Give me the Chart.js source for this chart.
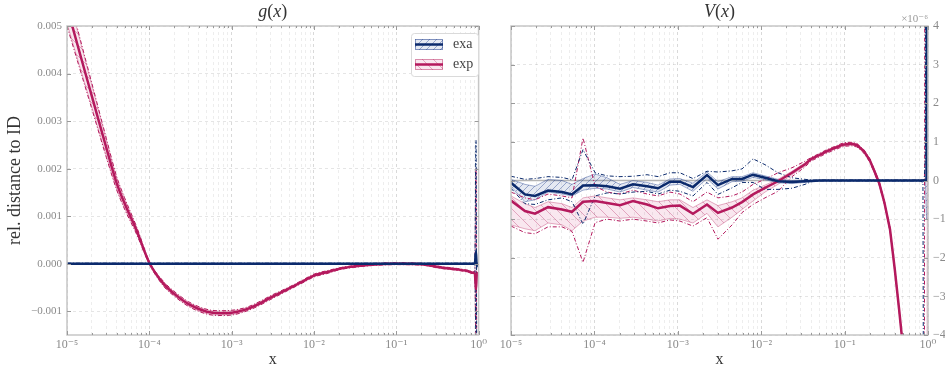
<!DOCTYPE html>
<html>
<head>
<meta charset="utf-8">
<script src="https://cdn.jsdelivr.net/npm/chart.js@4"></script>
<style>
    body { margin: 0; background: #fff; width: 945px; height: 371px; overflow: hidden; position: relative; }
    .panel { position: absolute; top: 0; height: 371px; }
    #gPanel { left: 0; width: 490px; }
    #vPanel { left: 490px; width: 455px; }
</style>
</head>
<body>
<div class="panel" id="gPanel"><canvas id="gChart"></canvas></div>
<div class="panel" id="vPanel"><canvas id="vChart"></canvas></div>
<script>
// ---- g(x): relative distance to ID ----
const gX = [1e-5, 1.5e-5, 2e-5, 3e-5, 4e-5, 5e-5, 7e-5, 1e-4, 1.5e-4, 2e-4,
    3e-4, 5e-4, 7e-4, 1e-3, 1.5e-3, 2e-3, 3e-3, 5e-3, 7e-3, 1e-2,
    1.5e-2, 2e-2, 3e-2, 5e-2, 0.1, 0.2, 0.35, 0.55, 0.75, 0.85,
    0.9, 0.93, 0.95, 0.97, 1.0];

const gExpMain = [0.0054, 0.0043, 0.00353, 0.00244, 0.0017, 0.00127, 0.0007, 0.00002, -0.00043, -0.00063,
    -0.00085, -0.00101, -0.00104, -0.00103, -0.00096, -0.00087, -0.00071, -0.00052, -0.00039, -0.00025,
    -0.00017, -0.00011, -0.00006, -0.00002, 0.0, -0.00001, -0.00008, -0.00012, -0.00016, -0.00019,
    -0.0002, -0.00054, -0.00025, -0.0002, -0.0002];
const gExpHi = [0.00574, 0.00458, 0.00376, 0.00261, 0.00182, 0.00137, 0.00076, 0.00004, -0.00039, -0.00059,
    -0.00081, -0.00097, -0.001, -0.00099, -0.00093, -0.00084, -0.00068, -0.0005, -0.00037, -0.00023,
    -0.00015, -0.0001, -0.00005, -0.00001, 0.00001, 0.0, -0.00007, -0.00011, -0.00015, -0.00018,
    -0.00018, -0.0004, -0.00021, -0.00018, -0.00018];
const gExpLo = [0.00506, 0.00402, 0.0033, 0.00227, 0.00158, 0.00117, 0.00064, 0.0, -0.00047, -0.00067,
    -0.00089, -0.00105, -0.00108, -0.00107, -0.00099, -0.0009, -0.00074, -0.00054, -0.00041, -0.00027,
    -0.00019, -0.00012, -0.00007, -0.00003, -0.00001, -0.00002, -0.00009, -0.00013, -0.00017, -0.0002,
    -0.00022, -0.0007, -0.0003, -0.00022, -0.00022];
const gExpMax = [0.0058, 0.00462, 0.0038, 0.00264, 0.00184, 0.00139, 0.00078, 0.00005, -0.00038, -0.00058,
    -0.0008, -0.00096, -0.00099, -0.00098, -0.00092, -0.00083, -0.00067, -0.00049, -0.00036, -0.00022,
    -0.00014, -0.00009, -0.00004, 0.0, 0.00002, 0.00001, -0.00006, -0.0001, -0.00014, -0.00017,
    -0.00017, 0.002, -0.0017, -0.0017, -0.0017];
const gExpMin = [0.005, 0.00398, 0.00326, 0.00224, 0.00156, 0.00115, 0.00062, -0.00001, -0.00048, -0.00068,
    -0.0009, -0.00106, -0.00109, -0.00108, -0.001, -0.00091, -0.00075, -0.00055, -0.00042, -0.00028,
    -0.0002, -0.00013, -0.00008, -0.00004, -0.00002, -0.00003, -0.0001, -0.00014, -0.00018, -0.00021,
    -0.00023, -0.0017, -0.0017, -0.0017, -0.0017];

const gExaMain = [0, 0, 0, 0, 0, 0, 0, 0, 0, 0,
    0, 0, 0, 0, 0, 0, 0, 0, 0, 0,
    0, 0, 0, 0, 0, 0, 0, 0, 0, 0,
    0, 0.00025, -0.00005, 0, 0];
const gExaHi = [0.00001, 0.00001, 0.00001, 0.00001, 0.00001, 0.00001, 0.00001, 0.00001, 0.00001, 0.00001,
    0.00001, 0.00001, 0.00001, 0.00001, 0.00001, 0.00001, 0.00001, 0.00001, 0.00001, 0.00001,
    0.00001, 0.00001, 0.00001, 0.00001, 0.00001, 0.00001, 0.00001, 0.00001, 0.00001, 0.00001,
    0.00001, 0.0003, 0.00002, 0.00001, 0.00001];
const gExaLo = [-0.00001, -0.00001, -0.00001, -0.00001, -0.00001, -0.00001, -0.00001, -0.00001, -0.00001, -0.00001,
    -0.00001, -0.00001, -0.00001, -0.00001, -0.00001, -0.00001, -0.00001, -0.00001, -0.00001, -0.00001,
    -0.00001, -0.00001, -0.00001, -0.00001, -0.00001, -0.00001, -0.00001, -0.00001, -0.00001, -0.00001,
    -0.00001, 0.0001, -0.0001, -0.00001, -0.00001];
const gExaMax = [0.00001, 0.00001, 0.00001, 0.00001, 0.00001, 0.00001, 0.00001, 0.00001, 0.00001, 0.00001,
    0.00001, 0.00001, 0.00001, 0.00001, 0.00001, 0.00001, 0.00001, 0.00001, 0.00001, 0.00001,
    0.00001, 0.00001, 0.00001, 0.00001, 0.00001, 0.00001, 0.00001, 0.00001, 0.00001, 0.00001,
    0.00001, 0.0026, -0.0017, -0.0017, -0.0017];
const gExaMin = [-0.00001, -0.00001, -0.00001, -0.00001, -0.00001, -0.00001, -0.00001, -0.00001, -0.00001, -0.00001,
    -0.00001, -0.00001, -0.00001, -0.00001, -0.00001, -0.00001, -0.00001, -0.00001, -0.00001, -0.00001,
    -0.00001, -0.00001, -0.00001, -0.00001, -0.00001, -0.00001, -0.00001, -0.00001, -0.00001, -0.00001,
    -0.00002, -0.0017, -0.0017, -0.0017, -0.0017];

const gYTicks = [-0.001, 0, 0.001, 0.002, 0.003, 0.004, 0.005];

// ---- V(x): values in units of 1e-6 ----
const vX = [1.00e-5, 1.47e-5, 1.94e-5, 2.78e-5, 4.09e-5, 5.39e-5, 7.30e-5, 1.02e-4, 1.42e-4, 2.03e-4,
    2.90e-4, 4.28e-4, 5.80e-4, 8.06e-4, 1.06e-3, 1.52e-3, 2.24e-3, 3.03e-3, 4.47e-3, 5.89e-3,
    7.98e-3, 1.11e-2, 1.59e-2, 2.34e-2, 3.35e-2,
    0.04, 0.05, 0.06, 0.07, 0.08, 0.09, 0.1, 0.12, 0.14, 0.17,
    0.2, 0.23, 0.26, 0.3, 0.35, 0.4, 0.45, 0.5, 0.6, 0.7,
    0.8, 0.87, 0.9, 0.93, 0.96, 0.98, 1.0];

const vExaMain = [-0.06, -0.36, -0.4, -0.26, -0.3, -0.36, -0.13, -0.12, -0.15, -0.21,
    -0.1, -0.15, -0.2, -0.03, -0.03, -0.17, 0.14, -0.12, 0.04, 0.04,
    0.15, 0.07, -0.02, -0.04, -0.02,
    -0.01, 0, 0, 0, 0, 0, 0, 0, 0, 0,
    0, 0, 0, 0, 0, 0, 0, 0, 0, 0,
    0, 0, 0, 0, 0.02, 15, 15];
const vExaHi = [0.03, -0.1, -0.15, 0.03, 0.0, -0.1, 0.05, 0.17, 0.07, -0.1,
    0.0, -0.05, -0.12, 0.04, 0.05, -0.07, 0.22, -0.03, 0.1, 0.1,
    0.2, 0.12, 0.03, 0.0, 0.01,
    0.01, 0.01, 0.01, 0.01, 0.01, 0.01, 0.01, 0.01, 0.01, 0.01,
    0.01, 0.01, 0.01, 0.01, 0.01, 0.01, 0.01, 0.01, 0.01, 0.01,
    0.01, 0.01, 0.01, 0.03, 0.1, 15, 15];
const vExaLo = [-0.15, -0.55, -0.5, -0.3, -0.35, -0.4, -0.25, -0.2, -0.22, -0.3,
    -0.18, -0.25, -0.3, -0.12, -0.1, -0.28, 0.05, -0.22, -0.03, -0.02,
    0.08, 0.02, -0.06, -0.08, -0.05,
    -0.01, -0.01, -0.01, -0.01, -0.01, -0.01, -0.01, -0.01, -0.01, -0.01,
    -0.01, -0.01, -0.01, -0.01, -0.01, -0.01, -0.01, -0.01, -0.01, -0.01,
    -0.01, -0.01, -0.02, -0.05, -1.0, -1.0, -1.0];
const vExaMax = [0.11, 0.03, 0.05, 0.1, 0.08, 0.02, 0.8, 0.2, 0.12, 0.1,
    0.11, 0.15, 0.1, 0.2, 0.2, 0.05, 0.24, 0.22, 0.25, 0.3,
    0.56, 0.41, 0.2, 0.07, 0.03,
    0.01, 0.01, 0.01, 0.01, 0.01, 0.01, 0.01, 0.01, 0.01, 0.01,
    0.01, 0.01, 0.01, 0.01, 0.01, 0.01, 0.01, 0.01, 0.01, 0.01,
    0.01, 0.01, 0.02, 0.6, 15, 15, 15];
const vExaMin = [-0.2, -0.6, -0.62, -0.5, -0.45, -0.55, -1.13, -0.4, -0.32, -0.35,
    -0.3, -0.28, -0.35, -0.25, -0.28, -0.4, -0.05, -0.36, -0.19, -0.05,
    -0.05, -0.23, -0.23, -0.2, -0.1,
    -0.03, -0.01, -0.01, -0.01, -0.01, -0.01, -0.01, -0.01, -0.01, -0.01,
    -0.01, -0.01, -0.01, -0.01, -0.01, -0.01, -0.01, -0.01, -0.01, -0.01,
    -0.01, -0.05, -15, -15, -15, -15, -15];

const vExpMain = [-0.52, -0.79, -0.86, -0.69, -0.75, -0.81, -0.55, -0.53, -0.58, -0.64,
    -0.53, -0.62, -0.72, -0.66, -0.65, -0.86, -0.62, -0.84, -0.7, -0.56,
    -0.36, -0.19, -0.02, 0.2, 0.42,
    0.56, 0.66, 0.75, 0.81, 0.86, 0.91, 0.935, 0.95, 0.92, 0.76,
    0.53, 0.22, -0.07, -0.57, -1.26, -2.31, -3.33, -4.3, -6.5, -9,
    -12, -14, -15, -16, -17, -18, -18];
const vExpHi = [-0.4, -0.6, -0.7, -0.55, -0.6, -0.7, -0.45, -0.4, -0.45, -0.5,
    -0.45, -0.5, -0.55, -0.5, -0.5, -0.7, -0.5, -0.65, -0.55, -0.45,
    -0.25, -0.12, 0.03, 0.24, 0.46,
    0.59, 0.69, 0.78, 0.84, 0.89, 0.94, 0.965, 0.98, 0.95, 0.79,
    0.56, 0.25, -0.04, -0.54, -1.23, -2.28, -3.3, -4.27, -6.47, -8.97,
    -11.97, -13.97, -14.97, -15.97, -16.97, 0.2, 0.2];
const vExpLo = [-1.15, -1.25, -1.3, -1.1, -1.15, -1.3, -1.05, -0.95, -0.95, -0.98,
    -0.95, -1.0, -1.05, -0.98, -1.0, -1.1, -0.85, -1.2, -0.95, -0.75,
    -0.53, -0.3, -0.1, 0.15, 0.38,
    0.53, 0.63, 0.72, 0.78, 0.83, 0.88, 0.905, 0.92, 0.89, 0.73,
    0.5, 0.19, -0.1, -0.6, -1.29, -2.34, -3.36, -4.33, -6.53, -9.03,
    -12.03, -14.03, -15.03, -16.03, -17.03, -20, -20];
const vExpMax = [-0.3, -0.45, -0.5, -0.35, -0.4, -0.45, 1.1, -0.15, -0.3, -0.35,
    -0.25, -0.35, -0.4, -0.3, -0.35, -0.55, -0.3, -0.45, -0.4, -0.3,
    -0.1, 0.03, 0.2, 0.33, 0.5,
    0.6, 0.7, 0.79, 0.85, 0.9, 0.95, 0.98, 0.99, 0.96, 0.8,
    0.57, 0.26, -0.03, -0.53, -1.22, -2.27, -3.29, -4.26, -6.46, -8.96,
    -11.96, -13.96, -14.96, 30, 30, 30, 30];
const vExpMin = [-1.18, -1.35, -1.38, -1.2, -1.2, -1.32, -2.12, -1.09, -1.0, -1.05,
    -1.0, -1.05, -1.1, -1.02, -1.05, -1.18, -0.96, -1.52, -1.15, -0.83,
    -0.62, -0.45, -0.28, 0.1, 0.35,
    0.51, 0.61, 0.7, 0.76, 0.81, 0.86, 0.885, 0.9, 0.87, 0.71,
    0.48, 0.17, -0.12, -0.62, -1.31, -2.36, -3.38, -4.35, -6.55, -9.05,
    -12.05, -14.05, -15.05, -16.05, -17.05, -18.05, -18.05];

const vYTicks = [-4, -3, -2, -1, 0, 1, 2, 3, 4];
const decades = [-5, -4, -3, -2, -1, 0];

const serif = "'Liberation Serif', 'DejaVu Serif', serif";
const ink = '#333';
const tickInk = '#8a8a8a';
const navy = '#0b2a6c';
const magenta = '#b4195d';

// 1..9 x 10^n positions for the log axis (labels only on powers of ten)
const xTickValues = [];
decades.forEach(e => {
    if (e === 0) { xTickValues.push(1); return; }
    for (let d = 1; d <= 9; d++) xTickValues.push(d * Math.pow(10, e));
});

const SUP = { '-': '\u207B', '0': '\u2070', '1': '\u00B9', '2': '\u00B2', '3': '\u00B3',
    '4': '\u2074', '5': '\u2075', '6': '\u2076' };
function sup(n) { return String(n).split('').map(ch => SUP[ch]).join(''); }
function isDecade(v) { const l = Math.log10(v); return Math.abs(l - Math.round(l)) < 1e-9; }
function minus(s) { return s.replace('-', '\u2212'); }

function hatch(base, stroke, size, rising) {
    const c = document.createElement('canvas');
    c.width = c.height = size;
    const g = c.getContext('2d');
    g.fillStyle = base;
    g.fillRect(0, 0, size, size);
    g.strokeStyle = stroke;
    g.lineWidth = 1;
    g.beginPath();
    for (const o of [-size, 0, size]) {
        if (rising) { g.moveTo(o, size); g.lineTo(o + size, 0); }
        else { g.moveTo(o, 0); g.lineTo(o + size, size); }
    }
    g.stroke();
    return g.createPattern(c, 'repeat');
}

const bluePattern = hatch('rgba(40, 70, 150, 0.12)', 'rgba(30, 60, 140, 0.4)', 7, true);
const pinkPattern = hatch('rgba(200, 40, 110, 0.11)', 'rgba(180, 30, 90, 0.33)', 11, false);

function pts(xs, ys) {
    return xs.map((x, i) => ({ x: x, y: ys[i] }));
}

function series(xs, s, color, edge, pattern, smooth) {
    const base = { pointRadius: 0, tension: 0, cubicInterpolationMode: smooth ? 'monotone' : 'default' };
    return {
        main: Object.assign({}, base, { data: pts(xs, s.main), borderColor: color, borderWidth: 2.5, fill: false }),
        max: Object.assign({}, base, { data: pts(xs, s.max), borderColor: color, borderWidth: 1, borderDash: [4, 2, 1, 2], fill: false }),
        min: Object.assign({}, base, { data: pts(xs, s.min), borderColor: color, borderWidth: 1, borderDash: [4, 2, 1, 2], fill: false }),
        hi: Object.assign({}, base, { data: pts(xs, s.hi), borderColor: edge, borderWidth: 1, backgroundColor: pattern, fill: '+1' }),
        lo: Object.assign({}, base, { data: pts(xs, s.lo), borderColor: edge, borderWidth: 1, fill: false })
    };
}

function drawRuns(ctx, runs, cx, y, size) {
    let w = 0;
    runs.forEach(r => {
        ctx.font = (r[1] ? 'italic ' : '') + size + 'px ' + serif;
        w += ctx.measureText(r[0]).width;
    });
    let x = cx - w / 2;
    ctx.textAlign = 'left';
    ctx.textBaseline = 'alphabetic';
    runs.forEach(r => {
        ctx.font = (r[1] ? 'italic ' : '') + size + 'px ' + serif;
        ctx.fillText(r[0], x, y);
        x += ctx.measureText(r[0]).width;
    });
}

function decor(titleRuns, extra) {
    return {
        id: 'decor',
        afterDraw(chart) {
            const { ctx, chartArea: a, scales } = chart;
            ctx.save();
            ctx.strokeStyle = '#c6c6c6';
            ctx.lineWidth = 1.5;
            ctx.strokeRect(a.left, a.top, a.right - a.left, a.bottom - a.top);

            // short inward tick marks on the frame
            ctx.strokeStyle = '#9a9a9a';
            ctx.lineWidth = 1;
            ctx.beginPath();
            xTickValues.forEach(v => {
                const px = Math.round(scales.x.getPixelForValue(v)) + 0.5;
                const len = isDecade(v) ? 4 : 2;
                ctx.moveTo(px, a.bottom); ctx.lineTo(px, a.bottom - len);
                ctx.moveTo(px, a.top); ctx.lineTo(px, a.top + len);
            });
            scales.y.ticks.forEach(t => {
                const py = Math.round(scales.y.getPixelForValue(t.value)) + 0.5;
                ctx.moveTo(a.left, py); ctx.lineTo(a.left + 4, py);
                ctx.moveTo(a.right, py); ctx.lineTo(a.right - 4, py);
            });
            ctx.stroke();

            ctx.fillStyle = ink;
            drawRuns(ctx, titleRuns, (a.left + a.right) / 2, 17, 18);
            if (extra) extra(ctx, a);
            ctx.restore();
        }
    };
}

function legendBox(ctx) {
    ctx.fillStyle = '#fff';
    ctx.strokeStyle = '#dadada';
    ctx.lineWidth = 1;
    ctx.beginPath();
    ctx.roundRect(411.5, 33.5, 67, 43, 3);
    ctx.fill();
    ctx.stroke();
    const rows = [
        { y: 44.5, label: 'exa', pattern: bluePattern, color: navy, edge: 'rgba(30, 60, 140, 0.5)' },
        { y: 64.5, label: 'exp', pattern: pinkPattern, color: magenta, edge: 'rgba(180, 30, 90, 0.45)' }
    ];
    rows.forEach(r => {
        ctx.fillStyle = r.pattern;
        ctx.fillRect(415, r.y - 5.5, 28, 11);
        ctx.strokeStyle = r.edge;
        ctx.strokeRect(415.5, r.y - 5, 27, 10);
        ctx.strokeStyle = r.color;
        ctx.lineWidth = 2.5;
        ctx.beginPath();
        ctx.moveTo(415, r.y); ctx.lineTo(443, r.y);
        ctx.stroke();
        ctx.lineWidth = 1;
        ctx.fillStyle = '#444';
        ctx.font = '14px ' + serif;
        ctx.textAlign = 'left';
        ctx.textBaseline = 'middle';
        ctx.fillText(r.label, 453, r.y);
    });
}

function scaleLabel(ctx, a) {
    ctx.fillStyle = '#9a9a9a';
    ctx.font = '11px ' + serif;
    ctx.textAlign = 'right';
    ctx.textBaseline = 'alphabetic';
    ctx.fillText('\u00D710' + sup(-6), a.right, 22);
}

function xAxis() {
    return {
        type: 'logarithmic',
        min: 1e-5,
        max: 1,
        afterBuildTicks: s => { s.ticks = xTickValues.map(v => ({ value: v })); },
        afterFit: s => { s.height = 36; },
        ticks: {
            autoSkip: false,
            maxRotation: 0,
            padding: 3,
            color: tickInk,
            font: { family: serif, size: 12 },
            callback: v => isDecade(v) ? '10' + sup(Math.round(Math.log10(v))) : ''
        },
        grid: {
            drawTicks: false,
            lineWidth: 1,
            color: c => (c.tick && isDecade(c.tick.value)) ? 'rgba(0, 0, 0, 0.15)' : 'rgba(0, 0, 0, 0.07)'
        },
        border: { display: false, dash: [3, 3] },
        title: { display: true, text: 'x', color: ink, font: { family: serif, size: 16 }, padding: { top: 0, bottom: 2 } }
    };
}

function buildDatasets(xs, exa, exp, smooth, zeroLine) {
    const a = series(xs, exa, navy, 'rgba(30, 60, 140, 0.4)', bluePattern, smooth);
    const b = series(xs, exp, magenta, 'rgba(180, 30, 90, 0.35)', pinkPattern, smooth);
    const sets = [a.main, b.main, a.max, a.min, b.max, b.min, a.hi, a.lo, b.hi, b.lo];
    if (zeroLine) {
        sets.push({ data: pts([1e-5, 1], [0, 0]), borderColor: '#b4b4b4', borderWidth: 1.5, pointRadius: 0, fill: false });
    }
    return sets;
}

function generateCharts() {
    const gCtx = document.getElementById('gChart').getContext('2d');
    const vCtx = document.getElementById('vChart').getContext('2d');

    const gConfig = {
        type: 'line',
        data: {
            datasets: buildDatasets(gX,
                { main: gExaMain, hi: gExaHi, lo: gExaLo, max: gExaMax, min: gExaMin },
                { main: gExpMain, hi: gExpHi, lo: gExpLo, max: gExpMax, min: gExpMin }, true, false)
        },
        options: {
            responsive: true,
            maintainAspectRatio: false,
            animation: false,
            devicePixelRatio: 1,
            layout: { padding: { left: 0, right: 5, top: 26, bottom: 0 } },
            scales: {
                x: xAxis(),
                y: {
                    min: -0.0015,
                    max: 0.005,
                    afterBuildTicks: s => { s.ticks = gYTicks.map(v => ({ value: v })); },
                    afterFit: s => { s.width = 67; },
                    ticks: {
                        padding: 5,
                        color: tickInk,
                        font: { family: serif, size: 11 },
                        callback: v => minus(v.toFixed(3))
                    },
                    grid: { drawTicks: false, color: 'rgba(0, 0, 0, 0.1)' },
                    border: { display: false, dash: [3, 3] },
                    title: { display: true, text: 'rel. distance to ID', color: ink, font: { family: serif, size: 18 }, padding: { top: 4, bottom: 0 } }
                }
            },
            plugins: { legend: { display: false }, tooltip: { enabled: false } }
        },
        plugins: [decor([['g', true], ['(', false], ['x', true], [')', false]], legendBox)]
    };

    const vConfig = {
        type: 'line',
        data: {
            datasets: buildDatasets(vX,
                { main: vExaMain, hi: vExaHi, lo: vExaLo, max: vExaMax, min: vExaMin },
                { main: vExpMain, hi: vExpHi, lo: vExpLo, max: vExpMax, min: vExpMin }, false, true)
        },
        options: {
            responsive: true,
            maintainAspectRatio: false,
            animation: false,
            devicePixelRatio: 1,
            layout: { padding: { left: 21, right: 0, top: 26, bottom: 0 } },
            scales: {
                x: xAxis(),
                y: {
                    position: 'right',
                    min: -4,
                    max: 4,
                    afterBuildTicks: s => { s.ticks = vYTicks.map(v => ({ value: v })); },
                    afterFit: s => { s.width = 17; },
                    ticks: {
                        padding: 5,
                        color: tickInk,
                        font: { family: serif, size: 12 },
                        callback: v => minus(String(v))
                    },
                    grid: { drawTicks: false, color: 'rgba(0, 0, 0, 0.1)' },
                    border: { display: false, dash: [3, 3] }
                }
            },
            plugins: { legend: { display: false }, tooltip: { enabled: false } }
        },
        plugins: [decor([['V', true], ['(', false], ['x', true], [')', false]], scaleLabel)]
    };

    new Chart(gCtx, gConfig);
    new Chart(vCtx, vConfig);
}

window.onload = generateCharts;
</script>
</body>
</html>
